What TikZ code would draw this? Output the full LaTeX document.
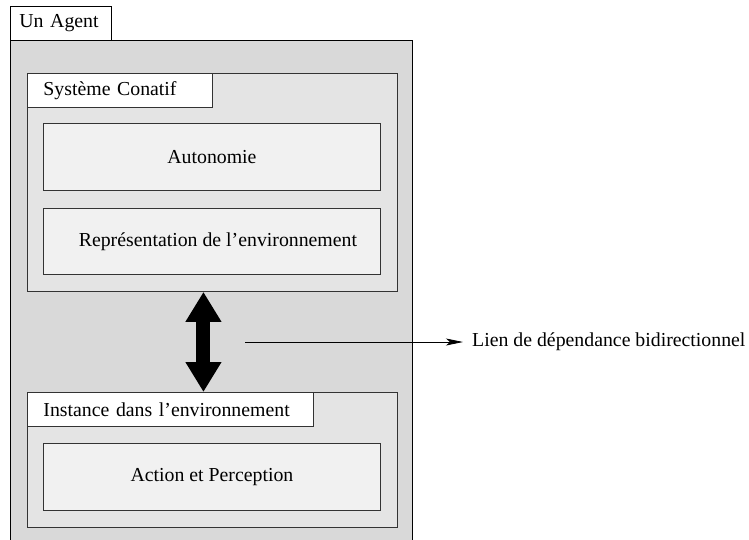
\documentclass[tikz,border=0pt]{standalone}
\usepackage{fontspec}
\setmainfont{Liberation Serif}
\usetikzlibrary{arrows.meta}
\definecolor{agentfill}{HTML}{D9D9D9}
\definecolor{framefill}{HTML}{E4E4E4}
\definecolor{boxfill}{HTML}{F1F1F1}
\begin{document}
\begin{tikzpicture}[x=1pt,y=-1pt,
  every node/.style={font=\fontsize{19.8}{24}\selectfont, inner sep=0pt},
  panel/.style={draw=black!80, line width=0.9pt, anchor=north west},
  tab/.style={panel, fill=white, minimum height=34pt, align=left},
  framebox/.style={panel, fill=framefill, minimum width=370pt},
  innerbox/.style={panel, fill=boxfill, minimum width=337pt, minimum height=67pt},
  bigarrow/.style={line width=14pt, {Triangle[length=30pt,width=34pt]}-{Triangle[length=30pt,width=34pt]}},
  thinarrow/.style={line width=0.8pt, -{Stealth[length=17pt,width=7pt,inset=4pt]}}]
\useasboundingbox (0,0) rectangle (749,539);

% the agent: grey body open at the bottom, with its name tab
\node[panel, draw=black, fill=agentfill, minimum width=402pt, minimum height=520pt] (agent) at (10,40) {};
\node[tab, draw=black, inner xsep=9pt, text width=83pt] (agenttab) at (10,6) {Un Agent};

% conative system
\node[framebox, minimum height=218pt] (conatif) at (27,73) {};
\node[tab, inner xsep=16pt, text width=153pt] (conatiftab) at (27,73) {Système Conatif};
\node[innerbox] (autonomie) at (43,123) {Autonomie};
\node[innerbox, minimum height=66pt] (representation) at (43,208) {\hspace{12pt}Représentation de l’environnement};

% instance in the environment
\node[framebox, minimum height=135pt] (instance) at (27,392) {};
\node[tab, inner xsep=16pt, text width=254pt] (instancetab) at (27,392) {Instance dans l’environnement};
\node[innerbox] (action) at (43,443) {Action et Perception};

% two-way dependency between the two parts
\draw[bigarrow] ([xshift=-9pt]conatif.south) -- ([xshift=-9pt]instance.north);

% legend for the dependency arrow
\coordinate (legendstart) at (245,342);
\node[anchor=west, inner xsep=9pt] (legend) at (463,342) {Lien de dépendance bidirectionnel};
\draw[thinarrow] (legendstart) -- (legend.west);
\end{tikzpicture}
\end{document}
